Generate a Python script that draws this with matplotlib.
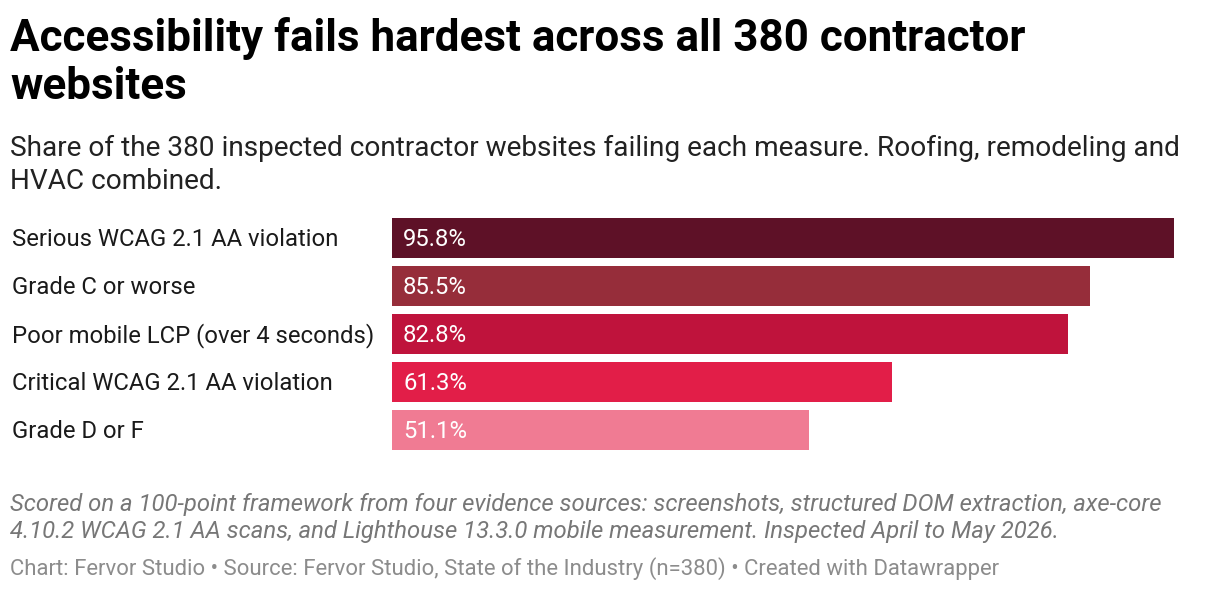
import matplotlib
matplotlib.use('Agg')
import matplotlib.pyplot as plt

# dados do gráfico
categorias = ['Serious WCAG 2.1 AA violation', 'Grade C or worse',
              'Poor mobile LCP (over 4 seconds)', 'Critical WCAG 2.1 AA violation',
              'Grade D or F']
valores = [95.8, 85.5, 82.8, 61.3, 51.1]
cores = ['#5e1127', '#962d3a', '#bf133c', '#e21e48', '#f07b93']

titulo = ['Accessibility fails hardest across all 380 contractor', 'websites']
subtitulo = ['Share of the 380 inspected contractor websites failing each measure. Roofing, remodeling and',
             'HVAC combined.']
nota = ['Scored on a 100-point framework from four evidence sources: screenshots, structured DOM extraction, axe-core',
        '4.10.2 WCAG 2.1 AA scans, and Lighthouse 13.3.0 mobile measurement. Inspected April to May 2026.']
creditos = 'Chart: Fervor Studio \u2022 Source: Fervor Studio, State of the Industry (n=380) \u2022 Created with Datawrapper'

plt.rcParams['font.family'] = ['Roboto', 'DejaVu Sans']

W, H = 1220, 592
fig = plt.figure(figsize=(W / 100, H / 100), dpi=100)

def px(x, y):
    return x / W, 1 - y / H

# textos do topo, uma linha por vez
for i, linha in enumerate(titulo):
    fig.text(*px(10, 51 + i * 48), linha, fontsize=31.7, fontweight='bold', color='#000000', va='baseline')
for i, linha in enumerate(subtitulo):
    fig.text(*px(10, 156 + i * 33), linha, fontsize=20.2, color='#222222', va='baseline')

# eixo das barras
x0, x1 = 392, 1208
y0, y1 = 214, 454
ax = fig.add_axes([x0 / W, 1 - y1 / H, (x1 - x0) / W, (y1 - y0) / H])
pos = list(range(len(categorias)))
ax.barh(pos, valores, height=40 / 48, color=cores)
ax.set_xlim(0, 100)
ax.set_ylim(len(categorias) - 0.5, -0.5)
ax.axis('off')

for i, (cat, v) in enumerate(zip(categorias, valores)):
    ax.text(1.35, i + 0.04, f'{v}%', color='white', fontsize=17.2, va='center', ha='left')
    ax.text(-(392 - 12) / 816 * 100, i + 0.04, cat, color='#1a1a1a', fontsize=17.2, va='center', ha='left')

# rodapé
for i, linha in enumerate(nota):
    fig.text(*px(10, 511 + i * 27), linha, fontsize=17.2, style='italic', color='#777777', va='baseline')
fig.text(*px(10, 575), creditos, fontsize=15.9, color='#8c8c8c', va='baseline')

fig.savefig('out.png', dpi=100, facecolor='white')
